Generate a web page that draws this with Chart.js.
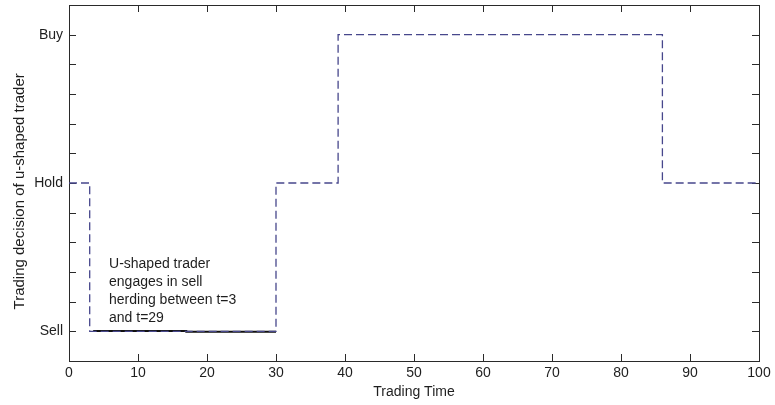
<!DOCTYPE html>
<html>
<head>
<meta charset="utf-8">
<title>Trading decision of u-shaped trader</title>
<script src="https://cdn.jsdelivr.net/npm/chart.js@4/dist/chart.umd.min.js"></script>
<style>
  html, body { margin: 0; padding: 0; background: #fff; }
  #wrap { width: 775px; height: 405px; }
</style>
</head>
<body>
<div id="wrap"><canvas id="decisionChart" width="775" height="405"></canvas></div>
<script>
// time axis
const timeTicks = [0, 10, 20, 30, 40, 50, 60, 70, 80, 90, 100];

// decision axis: Sell = 0, Hold = 1, Buy = 2
const decisionLevels = [0, 1, 2];
const decisionLabels = ["Sell", "Hold", "Buy"];
const decisionTicks = [0, 0.2, 0.4, 0.6, 0.8, 1, 1.2, 1.4, 1.6, 1.8, 2];

// trader decision over time (stepped)
const decisionTime = [0, 3, 30, 39, 86, 100];
const decisionValue = [1, 0, 1, 2, 1, 1];

// sell herding period
const herdTime = [3.5, 17, 17, 30];
const herdValue = [0.003, 0.003, -0.002, -0.002];

const noteLines = [
  "U-shaped trader",
  "engages in sell",
  "herding between t=3",
  "and t=29"
];

const FONT = "'Liberation Sans', Arial, Helvetica, sans-serif";
const INK = "#1e1e1e";

function labelFor(v) {
  const i = decisionLevels.findIndex(l => Math.abs(l - v) < 1e-6);
  return i >= 0 ? decisionLabels[i] : "";
}

// box around the plot with inward ticks, plus the text note
const matlabAxes = {
  id: "matlabAxes",
  beforeDatasetsDraw(chart) {
    const { ctx, chartArea: a, scales: { x, y } } = chart;
    const len = 7;
    ctx.save();
    ctx.strokeStyle = "#2a2a2a";
    ctx.lineWidth = 1;
    ctx.beginPath();
    x.ticks.forEach(t => {
      const px = Math.round(x.getPixelForValue(t.value)) + 0.5;
      ctx.moveTo(px, a.bottom); ctx.lineTo(px, a.bottom - len);
      ctx.moveTo(px, a.top); ctx.lineTo(px, a.top + len);
    });
    y.ticks.forEach(t => {
      const py = Math.round(y.getPixelForValue(t.value)) + 0.5;
      ctx.moveTo(a.left, py); ctx.lineTo(a.left + len, py);
      ctx.moveTo(a.right, py); ctx.lineTo(a.right - len, py);
    });
    ctx.stroke();
    ctx.strokeRect(Math.round(a.left) + 0.5, Math.round(a.top) + 0.5,
      Math.round(a.right - a.left), Math.round(a.bottom - a.top));
    ctx.restore();
  },
  afterDraw(chart, args, opts) {
    const { ctx, scales: { x, y } } = chart;
    const px = x.getPixelForValue(opts.at[0]);
    const py = y.getPixelForValue(opts.at[1]);
    ctx.save();
    ctx.fillStyle = INK;
    ctx.font = `14px ${FONT}`;
    ctx.textAlign = "left";
    ctx.textBaseline = "middle";
    noteLines.forEach((line, i) => ctx.fillText(line, px, py + i * 18));
    ctx.restore();
  }
};

new Chart(document.getElementById("decisionChart"), {
  type: "line",
  data: {
    datasets: [
      {
        label: "decision",
        data: decisionTime.map((t, i) => ({ x: t, y: decisionValue[i] })),
        stepped: true,
        borderColor: "#47478c",
        borderWidth: 1.3,
        borderDash: [8, 4],
        pointRadius: 0,
        fill: false
      },
      {
        label: "sell herding",
        data: herdTime.map((t, i) => ({ x: t, y: herdValue[i] })),
        borderColor: "#111",
        borderWidth: 2,
        pointRadius: 0,
        fill: false
      }
    ]
  },
  options: {
    responsive: false,
    animation: false,
    layout: { padding: { top: 5, right: 16, left: 0, bottom: 0 } },
    plugins: {
      legend: { display: false },
      tooltip: { enabled: false },
      matlabAxes: { at: [5.8, 0.45] }
    },
    scales: {
      x: {
        type: "linear",
        min: 0,
        max: 100,
        afterBuildTicks: s => { s.ticks = timeTicks.map(v => ({ value: v })); },
        afterFit: s => { s.height = 44; s.paddingLeft = 0; s.paddingRight = 0; },
        grid: { display: false, drawTicks: false },
        border: { display: false },
        ticks: { color: INK, padding: 4, maxRotation: 0, font: { family: FONT, size: 14 } },
        title: {
          display: true,
          text: "Trading Time",
          color: INK,
          padding: { top: 0, bottom: 4 },
          font: { family: FONT, size: 14 }
        }
      },
      y: {
        type: "linear",
        min: -0.2,
        max: 2.2,
        afterBuildTicks: s => { s.ticks = decisionTicks.map(v => ({ value: v })); },
        afterFit: s => { s.width = 69; s.paddingTop = 0; s.paddingBottom = 0; },
        grid: { display: false, drawTicks: false },
        border: { display: false },
        ticks: {
          color: INK,
          padding: 6,
          autoSkip: false,
          font: { family: FONT, size: 14 },
          callback: v => labelFor(v)
        },
        title: {
          display: true,
          text: "Trading decision of u-shaped trader    ",
          color: INK,
          padding: { top: 11, bottom: 0 },
          font: { family: FONT, size: 15 }
        }
      }
    }
  },
  plugins: [matlabAxes]
});
</script>
</body>
</html>
